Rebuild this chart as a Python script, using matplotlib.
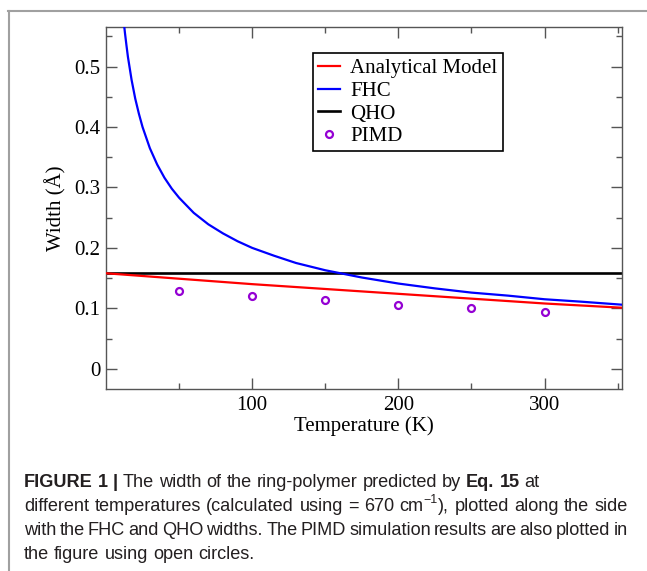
import matplotlib
matplotlib.use('Agg')
import matplotlib.pyplot as plt
from matplotlib.lines import Line2D
from matplotlib.ticker import MultipleLocator, FixedLocator

# ---------------- data ----------------
temp_analytical = [0, 50, 100, 150, 200, 250, 300, 353]
width_analytical = [0.158, 0.149, 0.140, 0.132, 0.124, 0.116, 0.108, 0.101]

temp_fhc = [10, 11, 12, 13, 14, 15, 17.5, 20, 22.5, 25, 30, 35, 40, 45, 50, 60, 70,
            80, 90, 100, 115, 130, 150, 175, 200, 225, 250, 275, 300, 325, 353]
width_fhc = [0.632, 0.603, 0.577, 0.555, 0.535, 0.516, 0.478, 0.447, 0.422, 0.400,
             0.365, 0.338, 0.316, 0.298, 0.283, 0.258, 0.239, 0.224, 0.211, 0.200,
             0.187, 0.175, 0.163, 0.151, 0.141, 0.133, 0.126, 0.121, 0.115, 0.111, 0.106]

qho_width = 0.158

temp_pimd = [50, 100, 150, 200, 250, 300]
width_pimd = [0.129, 0.120, 0.113, 0.106, 0.100, 0.094]

legend_labels = ["Analytical Model", "FHC", "QHO", "PIMD"]
xlabel = "Temperature (K)"
ylabel = "Width (Å)"
x_major_ticks = [100, 200, 300]
x_minor_ticks = [50, 150, 250, 350]
y_major_ticks = [0, 0.1, 0.2, 0.3, 0.4, 0.5]
y_tick_labels = ['0', '0.1', '0.2', '0.3', '0.4', '0.5']

# caption: each word is a list of pieces (text, bold, superscript)
caption_lines = [
    [[("FIGURE", 1, 0)], [("1", 1, 0)], [("|", 1, 0)], [("The", 0, 0)], [("width", 0, 0)],
     [("of", 0, 0)], [("the", 0, 0)], [("ring-polymer", 0, 0)], [("predicted", 0, 0)],
     [("by", 0, 0)], [("Eq.", 1, 0)], [("15", 1, 0)], [("at", 0, 0)]],
    [[("different", 0, 0)], [("temperatures", 0, 0)], [("(calculated", 0, 0)], [("using", 0, 0)],
     [("=", 0, 0)], [("670", 0, 0)], [("cm", 0, 0), ("\u22121", 0, 1), ("),", 0, 0)],
     [("plotted", 0, 0)], [("along", 0, 0)], [("the", 0, 0)], [("side", 0, 0)]],
    [[("with", 0, 0)], [("the", 0, 0)], [("FHC", 0, 0)], [("and", 0, 0)], [("QHO", 0, 0)],
     [("widths.", 0, 0)], [("The", 0, 0)], [("PIMD", 0, 0)], [("simulation", 0, 0)],
     [("results", 0, 0)], [("are", 0, 0)], [("also", 0, 0)], [("plotted", 0, 0)], [("in", 0, 0)]],
    [[("the", 0, 0)], [("figure", 0, 0)], [("using", 0, 0)], [("open", 0, 0)], [("circles.", 0, 0)]],
]
caption_justify = [False, True, True, False]

# ---------------- style ----------------
plt.rcParams['font.family'] = ['Liberation Serif', 'DejaVu Serif']

W, H = 647, 571
fig = plt.figure(figsize=(W / 100, H / 100), dpi=100)
fig.patch.set_facecolor('white')

ax_l, ax_r, ax_t, ax_b = 106, 622, 27.3, 388.7
ax = fig.add_axes([ax_l / W, 1 - ax_b / H, (ax_r - ax_l) / W, (ax_b - ax_t) / H])

ax.plot(temp_analytical, width_analytical, color='#ff0000', lw=1.6, label=legend_labels[0], zorder=3)
ax.plot(temp_fhc, width_fhc, color='#0000ff', lw=1.6, label=legend_labels[1], zorder=3)
ax.axhline(qho_width, color='black', lw=1.9, label=legend_labels[2], zorder=2)
ax.plot(temp_pimd, width_pimd, linestyle='none', marker='o', ms=5, mfc='none',
        mec='#9400d3', mew=1.6, label=legend_labels[3], zorder=4)

ax.set_xlim(0, 353)
ax.set_ylim(-0.033, 0.565)
ax.xaxis.set_major_locator(FixedLocator(x_major_ticks))
ax.xaxis.set_minor_locator(FixedLocator(x_minor_ticks))
ax.set_yticks(y_major_ticks)
ax.set_yticklabels(y_tick_labels)
ax.yaxis.set_minor_locator(MultipleLocator(0.05))

spine_col = '#555555'
for s in ax.spines.values():
    s.set_color(spine_col)
    s.set_linewidth(1.0)
ax.tick_params(which='both', direction='in', top=True, right=True, color=spine_col,
               width=1.0, labelsize=15, labelcolor='black')
ax.tick_params(which='major', length=8, pad=4)
ax.tick_params(which='minor', length=4.5)
ax.tick_params(axis='x', which='major', pad=5)

ax.set_xlabel(xlabel, fontsize=15, labelpad=1)
ax.set_ylabel(ylabel, fontsize=15, labelpad=6)

leg_x = (312.7 - ax_l) / (ax_r - ax_l)
leg_y = (ax_b - 53.3) / (ax_b - ax_t)
leg = ax.legend(loc='upper left', bbox_to_anchor=(leg_x, leg_y), borderaxespad=0,
                fontsize=15, frameon=True, fancybox=False, shadow=False,
                handlelength=1.05, handletextpad=0.5, borderpad=0.25,
                labelspacing=0.15, numpoints=1, framealpha=1)
leg.get_frame().set_edgecolor('black')
leg.get_frame().set_linewidth(1.2)

# ---------------- page border ----------------
border_col = '#a0a0a0'
fig.add_artist(Line2D([8 / W, 1], [1 - 10.5 / H, 1 - 10.5 / H], transform=fig.transFigure,
                      color=border_col, lw=1.5))
fig.add_artist(Line2D([9 / W, 9 / W], [1 - 10.5 / H, 0], transform=fig.transFigure,
                      color=border_col, lw=1.5))

# ---------------- caption ----------------
fig.canvas.draw()
renderer = fig.canvas.get_renderer()
cap_family = ['Liberation Sans', 'DejaVu Sans']
cap_color = '#231f20'
SUP = 0.68


def text_w(s, bold, size):
    t = fig.text(0, 0, s, fontsize=size, fontweight='bold' if bold else 'normal',
                 family=cap_family)
    w = t.get_window_extent(renderer).width
    t.remove()
    return w


def word_w(pieces, size):
    return sum(text_w(s, b, size * (SUP if sp else 1)) for s, b, sp in pieces)


def line_natural(words, size):
    sp = text_w("x x", 0, size) - text_w("xx", 0, size)
    ws = [word_w(w, size) for w in words]
    return ws, sp, sum(ws) + sp * (len(words) - 1)


x0, x1 = 24, 628
_, _, nat = line_natural(caption_lines[1], 12)
cap_size = 12 * (x1 - x0) / nat

baselines = [487, 511, 535, 559]
for words, just, yb in zip(caption_lines, caption_justify, baselines):
    ws, sp, tot = line_natural(words, cap_size)
    if just and len(words) > 1:
        sp = ((x1 - x0) - sum(ws)) / (len(words) - 1)
    x = x0
    for pieces, wd in zip(words, ws):
        px = x
        for s, b, sup in pieces:
            size = cap_size * (SUP if sup else 1)
            dy = -cap_size * 1.39 * 0.42 if sup else 0
            fig.text(px / W, 1 - (yb + dy) / H, s, fontsize=size,
                     fontweight='bold' if b else 'normal',
                     family=cap_family, color=cap_color, va='baseline', ha='left')
            px += text_w(s, b, size)
        x += wd + sp

fig.savefig('out.png', dpi=100, facecolor='white')
